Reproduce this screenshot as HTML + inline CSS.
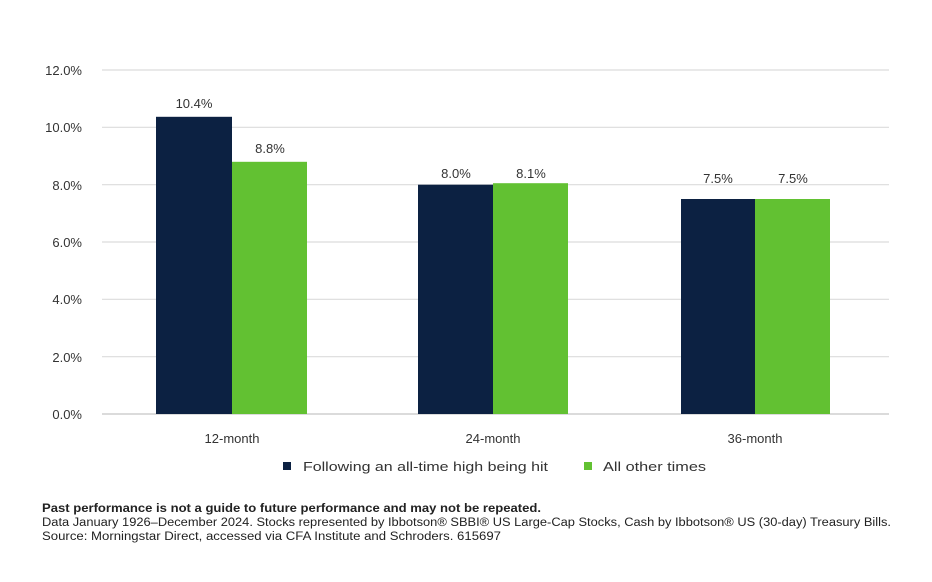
<!DOCTYPE html>
<html>
<head>
<meta charset="utf-8">
<style>
html,body{margin:0;padding:0;background:#fff;}
svg{display:block;}
text{font-family:"Liberation Sans",sans-serif;}
</style>
</head>
<body>
<svg width="932" height="582" viewBox="0 0 932 582" xmlns="http://www.w3.org/2000/svg">
<rect width="932" height="582" fill="#fff"/>
<!-- gridlines -->
<g stroke="#dcdcdc" stroke-width="1.2">
<line x1="102" y1="70" x2="889" y2="70"/>
<line x1="102" y1="127.3" x2="889" y2="127.3"/>
<line x1="102" y1="184.7" x2="889" y2="184.7"/>
<line x1="102" y1="242" x2="889" y2="242"/>
<line x1="102" y1="299.3" x2="889" y2="299.3"/>
<line x1="102" y1="356.7" x2="889" y2="356.7"/>
</g>
<line x1="102" y1="414" x2="889" y2="414" stroke="#cfcfcf" stroke-width="1.4"/>
<!-- y labels -->
<g font-size="13" fill="#333" text-anchor="end">
<text x="82" y="75">12.0%</text>
<text x="82" y="132">10.0%</text>
<text x="82" y="190">8.0%</text>
<text x="82" y="247">6.0%</text>
<text x="82" y="304">4.0%</text>
<text x="82" y="362">2.0%</text>
<text x="82" y="419">0.0%</text>
</g>
<!-- bars -->
<rect x="156" y="116.8" width="76" height="297.2" fill="#0c2142"/>
<rect x="232" y="161.8" width="75" height="252.2" fill="#62c132"/>
<rect x="418" y="184.7" width="75" height="229.3" fill="#0c2142"/>
<rect x="493" y="183.2" width="75" height="230.8" fill="#62c132"/>
<rect x="681" y="199" width="74" height="215" fill="#0c2142"/>
<rect x="755" y="199" width="75" height="215" fill="#62c132"/>
<!-- value labels -->
<g font-size="13" fill="#333" text-anchor="middle">
<text x="194" y="108">10.4%</text>
<text x="270" y="153">8.8%</text>
<text x="456" y="178">8.0%</text>
<text x="531" y="178">8.1%</text>
<text x="718" y="183">7.5%</text>
<text x="793" y="183">7.5%</text>
</g>
<!-- category labels -->
<g font-size="13" fill="#333" text-anchor="middle">
<text x="232" y="443">12-month</text>
<text x="493" y="443">24-month</text>
<text x="755" y="443">36-month</text>
</g>
<!-- legend -->
<rect x="283" y="462" width="8" height="8" fill="#0c2142"/>
<text x="303" y="471" font-size="13" fill="#333" textLength="245" lengthAdjust="spacingAndGlyphs">Following an all-time high being hit</text>
<rect x="584" y="462" width="8" height="8" fill="#62c132"/>
<text x="603" y="471" font-size="13" fill="#333" textLength="103" lengthAdjust="spacingAndGlyphs">All other times</text>
<!-- footer -->
<text x="42" y="512" font-size="11.5" font-weight="bold" fill="#222" textLength="499" lengthAdjust="spacingAndGlyphs">Past performance is not a guide to future performance and may not be repeated.</text>
<text x="42" y="526" font-size="11.5" fill="#222" textLength="849" lengthAdjust="spacingAndGlyphs">Data January 1926–December 2024. Stocks represented by Ibbotson® SBBI® US Large-Cap Stocks, Cash by Ibbotson® US (30-day) Treasury Bills.</text>
<text x="42" y="540" font-size="11.5" fill="#222" textLength="459" lengthAdjust="spacingAndGlyphs">Source: Morningstar Direct, accessed via CFA Institute and Schroders. 615697</text>
</svg>
</body>
</html>
